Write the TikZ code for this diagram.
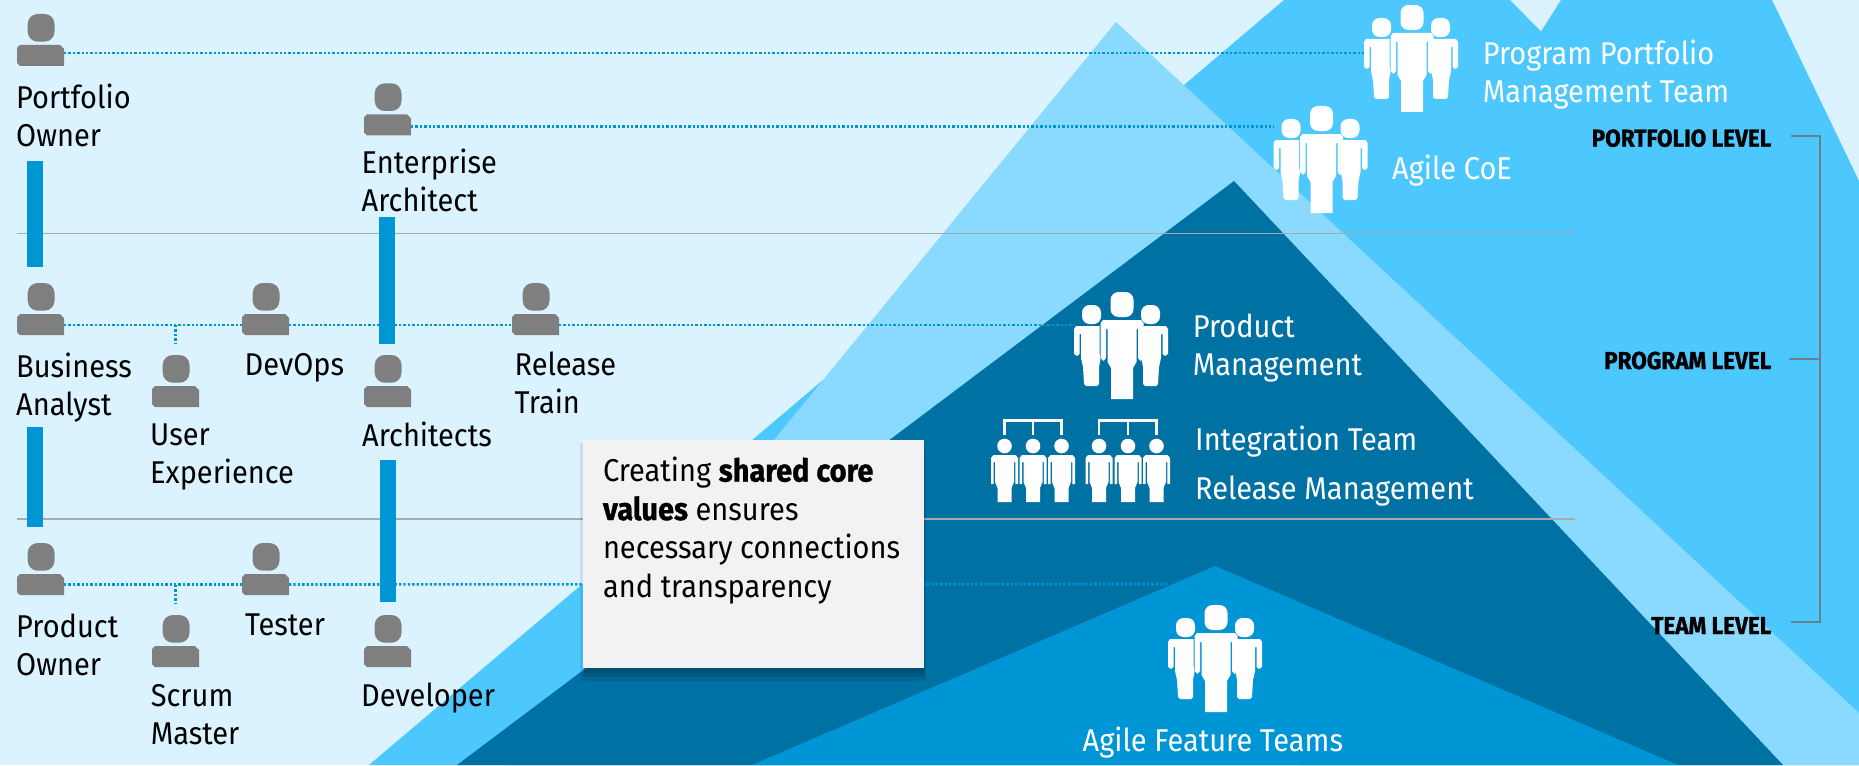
\documentclass[tikz,border=0pt]{standalone}
\usepackage{fontspec}
\setmainfont[FakeStretch=0.92,BoldFeatures={FakeBold=1}]{Fira Sans}
\usetikzlibrary{calc}
\definecolor{bgc}{HTML}{DBF3FF}
\definecolor{midc}{HTML}{4CC8FF}
\definecolor{lightc}{HTML}{8ADAFF}
\definecolor{darkc}{HTML}{0071A3}
\definecolor{corec}{HTML}{0096D6}
\definecolor{greyc}{HTML}{7F7F7F}
\definecolor{rulec}{HTML}{A6ACAE}
\definecolor{brackc}{HTML}{66808F}
\definecolor{boxc}{HTML}{F2F2F2}
\tikzset{
  x=1pt,y=-1pt,
  person/.style={anchor=north west,inner sep=0pt,outer sep=0pt,minimum width=47pt,minimum height=52pt},
  team/.style={anchor=north west,inner sep=0pt,outer sep=0pt,minimum width=95pt,minimum height=108pt},
  label/.style={anchor=base west,inner sep=0pt,align=left,font=\fontsize{31.5}{38}\selectfont,text=black},
  wlabel/.style={label,text=white},
  lvl/.style={anchor=base east,inner sep=0pt,font=\fontsize{24.5}{28}\selectfont\bfseries,text=black},
  dots/.style={corec,line width=2.6pt,dash pattern=on 2.3pt off 2.1pt},
  rulel/.style={rulec,line width=1.6pt},
  bar/.style={fill=corec,anchor=north west,inner sep=0pt,outer sep=0pt,minimum width=16pt},
  brack/.style={brackc,line width=2pt},
}
\newcommand{\personat}[2]{%
  \node[person] (#1) at (#2) {};
  \begin{scope}[shift={(#1.north west)}]
    \fill[greyc,rounded corners=10pt] (10.7,0) rectangle (37.5,27.7);
    \fill[greyc] (3,31)--(43,31)--(47,35)--(47,52)--(3,52)--(0,49)--(0,34)--cycle;
  \end{scope}}
\newcommand{\teamat}[2]{%
  \node[team] (#1) at (#2) {};
  \begin{scope}[shift={(#1.north west)}]
    \fill[white,rounded corners=8pt] (36.5,0) rectangle (59.5,25);
    \fill[white,rounded corners=7.5pt] (8,13) rectangle (27,32);
    \fill[white,rounded corners=7.5pt] (67,13) rectangle (86,32);
    \fill[white] (29,28)--(67,28)--(69.5,31)--(69.5,66)--(66.5,69)--(64,66)--(64,37)--(62.5,37)--(62.5,70)--(59,76)--(59,107)--(37,107)--(37,76)--(33.5,70)--(33.5,37)--(32,37)--(32,66)--(29.5,69)--(26.5,66)--(26.5,31)--cycle;
    \fill[white] (2,34)--(25.5,34)--(25.5,60)--(26.5,67)--(25,75)--(25,92)--(23,94)--(12,94)--(10,92)--(9,75)--(7,66)--(7,42)--(5.5,42)--(5.5,62)--(3,64)--(0,62)--(0,37)--cycle;
    \fill[white] (92,34)--(68.5,34)--(68.5,60)--(67.5,67)--(69,75)--(69,92)--(71,94)--(82,94)--(84,92)--(85,75)--(87,66)--(87,42)--(88.5,42)--(88.5,62)--(91,64)--(94,62)--(94,37)--cycle;
  \end{scope}}
\newcommand{\smallfig}[1]{%
  \begin{scope}[shift={(#1,0)}]
  \fill[white] (0,446) circle[radius=7.3];
  \fill[white] (-11,455)--(11,455)--(13.5,458)--(13.5,484)--(10.8,484)--(10.8,462)--(9.5,462)--(9.5,482)--(7,488)--(7,502)--(-7,502)--(-7,488)--(-9.5,482)--(-9.5,462)--(-10.8,462)--(-10.8,484)--(-13.5,484)--(-13.5,458)--cycle;
  \end{scope}}
\begin{document}
\begin{tikzpicture}
\useasboundingbox (0,0) rectangle (1859,765);
% mountains
\fill[bgc] (0,0) rectangle (1859,765);
\fill[midc] (369,765)--(823,380)--(1000,500)--(800,765)--cycle;
\fill[midc] (1184,85)--(1284,0)--(1510,0)--(1541,31.5)--(1561,0)--(1772,0)--(1859,181)--(1859,765)--(1300,765)--cycle;
\fill[lightc] (1116,22)--(1859,713)--(1859,765)--(508,765)--cycle;
\fill[darkc] (1234,181)--(1783,765)--(457,765)--cycle;
\fill[corec] (1215,566)--(1678,765)--(752,765)--cycle;
% rules
\draw[rulel] (17,233.5)--(1575,233.5);
\draw[rulel] (17,518.7)--(1575,518.7);
% team icons
\teamat{tPPM}{1364,5}
\teamat{tCoE}{1273.5,106}
\teamat{tPM}{1074,292}
\teamat{tAFT}{1168,605}
% integration icon
\node[anchor=north west,inner sep=0pt,minimum width=178pt,minimum height=83pt] (tINT) at (991,419) {};
\foreach \c in {1004.5,1033,1061.5,1099,1128,1156.5}{\smallfig{\c}}
\draw[white,line width=2.2pt] (1004.5,435)--(1004.5,420.5)--(1061.5,420.5)--(1061.5,435) (1033,420.5)--(1033,435);
\draw[white,line width=2.2pt] (1099,435)--(1099,420.5)--(1156.5,420.5)--(1156.5,435) (1128,420.5)--(1128,435);
% persons
\personat{pPO}{17,14}
\personat{pEA}{364,83.3}
\personat{pBA}{17,283}
\personat{pDO}{242,283}
\personat{pRT}{512,283}
\personat{pUX}{152,355}
\personat{pAR}{364,355}
\personat{pOW}{17,543}
\personat{pTE}{242,543}
\personat{pSM}{152,615}
\personat{pDV}{364,615}
% dotted connectors
\draw[dots] ($(pPO.south east)+(0,-13)$) -- ($(tPPM.north west)+(0,48)$);
\draw[dots] ($(pEA.south east)+(0,-8.6)$) -- ($(tCoE.north west)+(0,20.7)$);
\draw[dots] ($(pBA.south east)+(0,-10)$) -- ($(pDO.south west)+(0,-10)$);
\draw[dots] ($(pDO.south east)+(0,-10)$) -- ($(pRT.south west)+(0,-10)$);
\draw[dots] ($(pRT.south east)+(0,-10)$) -- ($(tPM.north west)+(0,33)$);
\draw[dots] ($(pUX.north)+(0,-30)$) -- ($(pUX.north)+(0,-11)$);
\draw[dots] ($(pOW.south east)+(0,-10.5)$) -- ($(pTE.south west)+(0,-10.5)$);
\draw[dots] ($(pTE.south east)+(0,-10.5)$) -- ($(tAFT.north west)+(0,-21)$);
\draw[dots] ($(pSM.north)+(0,-30)$) -- ($(pSM.north)+(0,-11)$);
% bars
\node[bar,minimum height=106pt] (b1) at (27,160.7) {};
\node[bar,minimum height=127pt] (b2) at (379.4,217) {};
\node[bar,minimum height=100pt] (b3) at (27,427) {};
\node[bar,minimum height=141.7pt] (b4) at (379.5,460) {};
% labels (baseline of the last line)
\node[label] (lPO) at (16,146.7) {Portfolio\\Owner};
\node[label] (lEA) at (361.5,211.7) {Enterprise\\Architect};
\node[label] (lBA) at (16,415.7) {Business\\Analyst};
\node[label] (lDO) at (244.5,375) {DevOps};
\node[label] (lRT) at (514.5,413) {Release\\Train};
\node[label] (lUX) at (150,483.6) {User\\Experience};
\node[label] (lAR) at (362,446.7) {Architects};
\node[label] (lOW) at (16,675.8) {Product\\Owner};
\node[label] (lTE) at (245,635) {Tester};
\node[label] (lSM) at (150.6,744.6) {Scrum\\Master};
\node[label] (lDV) at (361,706) {Developer};
\node[wlabel] (wPPM) at (1482.6,102.4) {Program Portfolio\\Management Team};
\node[wlabel] (wCoE) at (1392,179) {Agile CoE};
\node[wlabel] (wPM) at (1192.6,375.5) {Product\\Management};
\node[wlabel] (wIT) at (1195,450) {Integration Team};
\node[wlabel] (wRM) at (1195,499) {Release Management};
\node[wlabel] (wAFT) at (1082.5,751.6) {Agile Feature Teams};
% levels
\node[lvl] (vP) at (1771.5,146.7) {PORTFOLIO LEVEL};
\node[lvl] (vG) at (1771.5,369) {PROGRAM LEVEL};
\node[lvl] (vT) at (1771.5,634) {TEAM LEVEL};
\coordinate (cP) at (1791,136);
\coordinate (cG) at (1789,359);
\coordinate (cT) at (1791,622);
\draw[brack] (cP) -- (1820,136) -- (1820,622) -- (cT);
\draw[brack] (cG) -- (1820,359);
% callout
\fill[black,opacity=.08] (580,443) rectangle (926,681);
\fill[black,opacity=.12] (583,450) rectangle (925,677);
\fill[black,opacity=.12] (584,455) rectangle (924,673);
\node[anchor=north west,fill=boxc,inner sep=0pt,outer sep=0pt,minimum width=341pt,minimum height=228pt,text=black] (box) at (583,440)
 {\parbox[t][228pt][t]{341pt}{\fontsize{31.5}{38.5}\selectfont\leftskip=20pt\rightskip=0pt plus 1fil\parindent=0pt\vspace{17pt}Creating \textbf{shared core}\\ \textbf{values} ensures\\ necessary connections\\ and transparency}};
\end{tikzpicture}
\end{document}
